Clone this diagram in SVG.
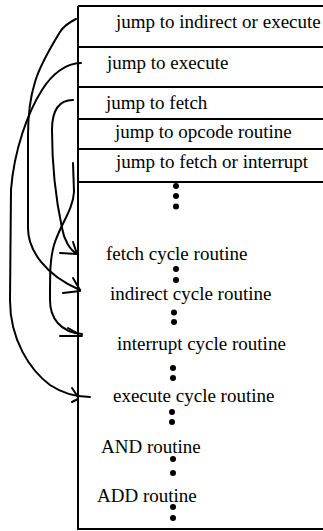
<svg xmlns="http://www.w3.org/2000/svg" width="323" height="531" viewBox="0 0 323 531">
  <style>
    .frame { fill: none; stroke: #000; stroke-width: 2; }
    .lbl { font-family: "Liberation Serif", "Times New Roman", serif; font-size: 19px; fill: #000; }
    .wire { fill: none; stroke: #000; stroke-width: 2; stroke-linecap: round; stroke-linejoin: round; }
    .dot { fill: #000; }
  </style>
  <rect width="323" height="531" fill="#fff"/>

  <!-- memory frame -->
  <g id="memory">
    <path class="frame" d="M78,6 H330 M78,6 V529 H330"/>
    <path class="frame" d="M78,47 H330 M78,87 H330 M78,119 H330 M78,149 H330 M78,182 H330"/>
  </g>

  <!-- jump table entries -->
  <g id="jump-indirect-or-execute"><text class="lbl" x="116" y="28">jump to indirect or execute</text></g>
  <g id="jump-execute"><text class="lbl" x="107" y="69">jump to execute</text></g>
  <g id="jump-fetch"><text class="lbl" x="106" y="109">jump to fetch</text></g>
  <g id="jump-opcode"><text class="lbl" x="115" y="138">jump to opcode routine</text></g>
  <g id="jump-fetch-or-interrupt"><text class="lbl" x="116" y="168">jump to fetch or interrupt</text></g>

  <g id="gap-1">
    <circle class="dot" cx="176" cy="186" r="3"/>
    <circle class="dot" cx="176" cy="196" r="3"/>
    <circle class="dot" cx="176" cy="206.5" r="3"/>
  </g>

  <!-- routines -->
  <g id="fetch-cycle"><text class="lbl" x="106" y="260">fetch cycle routine</text></g>
  <g id="gap-2">
    <circle class="dot" cx="176" cy="269" r="3"/>
    <circle class="dot" cx="176" cy="280" r="3"/>
  </g>
  <g id="indirect-cycle"><text class="lbl" x="110" y="300">indirect cycle routine</text></g>
  <g id="gap-3">
    <circle class="dot" cx="174" cy="312.5" r="3"/>
    <circle class="dot" cx="174" cy="322" r="3"/>
  </g>
  <g id="interrupt-cycle"><text class="lbl" x="117" y="350">interrupt cycle routine</text></g>
  <g id="gap-4">
    <circle class="dot" cx="173" cy="368" r="3"/>
    <circle class="dot" cx="173" cy="378" r="3"/>
  </g>
  <g id="execute-cycle"><text class="lbl" x="113" y="402">execute cycle routine</text></g>
  <g id="gap-5">
    <circle class="dot" cx="172" cy="412" r="3"/>
    <circle class="dot" cx="172" cy="422" r="3"/>
  </g>
  <g id="and-routine"><text class="lbl" x="101" y="453">AND routine</text></g>
  <g id="gap-6">
    <circle class="dot" cx="173" cy="459" r="3"/>
    <circle class="dot" cx="173" cy="473" r="3"/>
  </g>
  <g id="add-routine"><text class="lbl" x="97" y="502">ADD routine</text></g>
  <g id="gap-7">
    <circle class="dot" cx="173" cy="507" r="3"/>
    <circle class="dot" cx="173" cy="518" r="3"/>
  </g>

  <!-- hand-drawn jumps -->
  <g id="connectors">
    <!-- indirect or execute -> indirect cycle -->
    <path class="wire" d="M76,19 C68,23 63,27 60,32 C52,45 40,65 35,82 C30,98 28,115 28,135 L28,228 C28,250 45,275 80,290"/>
    <path class="wire" d="M63,293 L80,291 M73,278 L80,290"/>
    <!-- execute -> execute cycle -->
    <path class="wire" d="M81,63 C66,63 52,74 42,90 C28,112 14,150 11,190 L10,300 C10,340 30,370 50,385 C62,393 75,397 90,397"/>
    <path class="wire" d="M72,388 L78,397 M72,402 L78,399"/>
    <!-- fetch -> fetch cycle -->
    <path class="wire" d="M73,100 C58,100 52,112 52,130 C52,170 56,200 62,228 C64,240 70,250 77,254"/>
    <path class="wire" d="M60,253 L77,254 M73,242 L77,254"/>
    <!-- fetch or interrupt -> interrupt cycle -->
    <path class="wire" d="M73,163 L74,192 C73,210 60,225 54,245 C50,260 50,270 50,300 C50,318 60,332 82,334"/>
    <path class="wire" d="M60,336 L82,336 M68,328 L77,333"/>
  </g>
</svg>
